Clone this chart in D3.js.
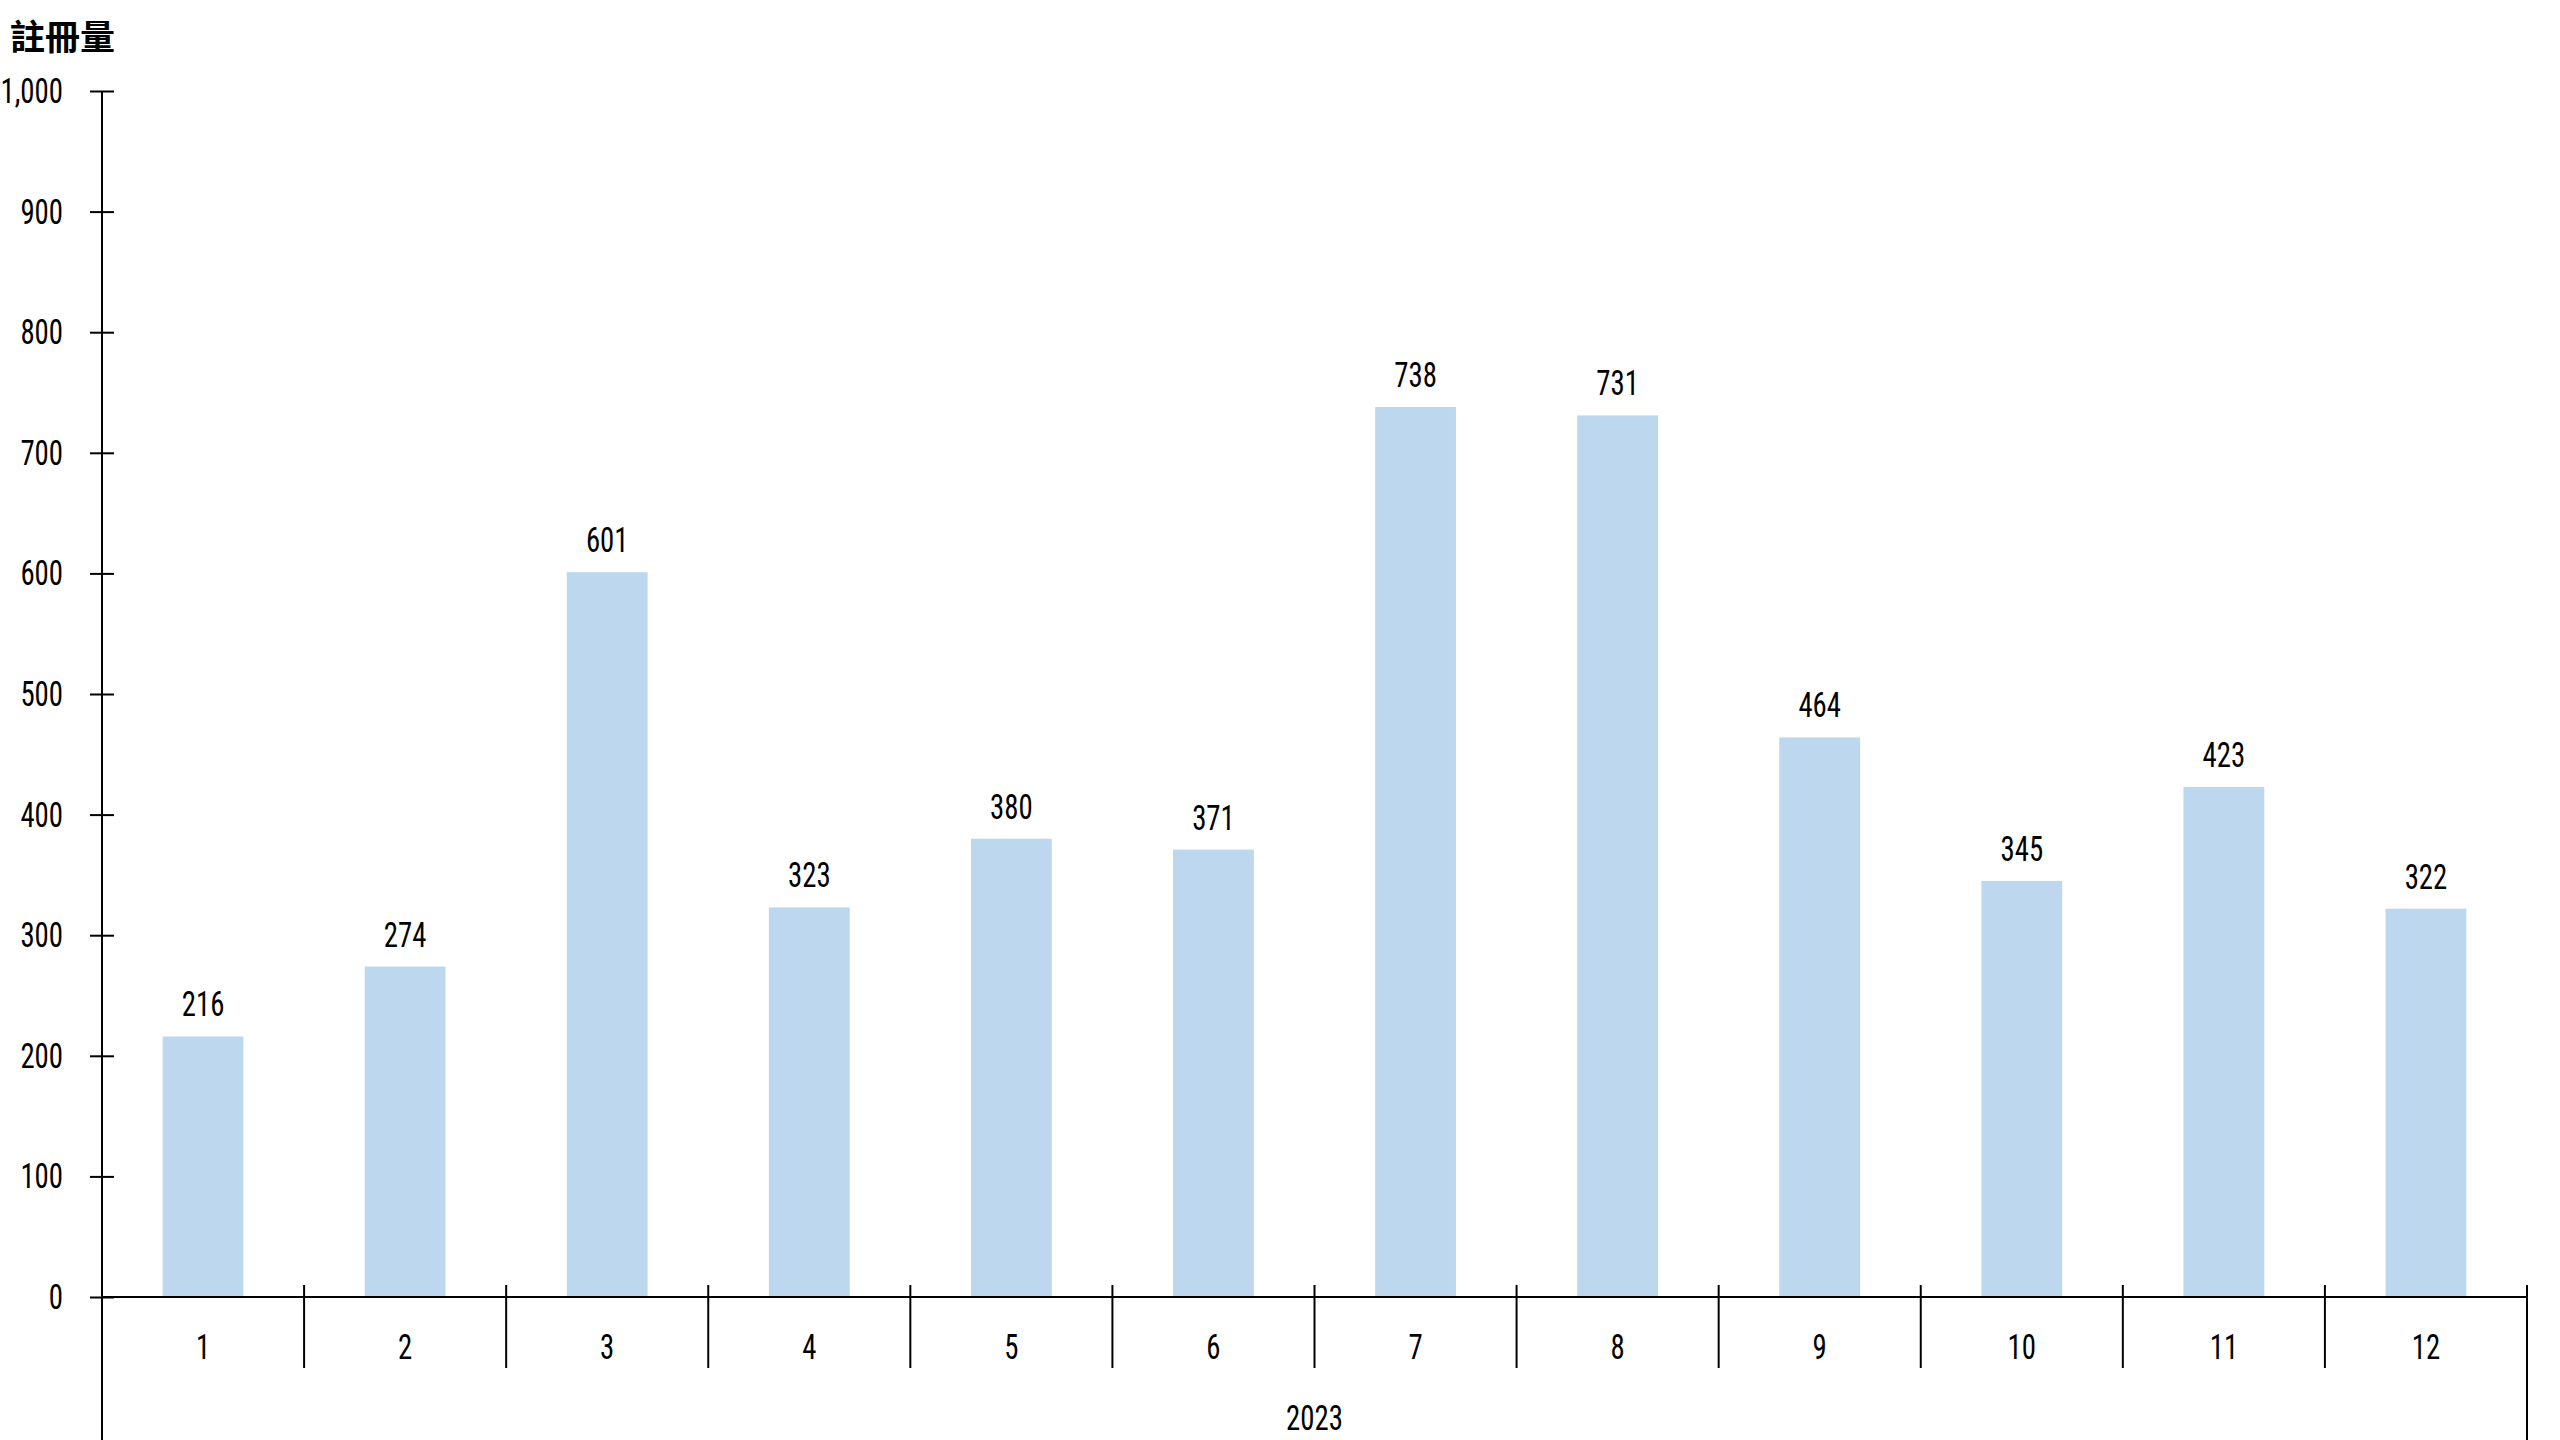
<!DOCTYPE html>
<html>
<head>
<meta charset="utf-8">
<script src="https://cdn.jsdelivr.net/npm/d3@7"></script>
<style>
  html, body { margin: 0; padding: 0; background: #fff; }
  svg text { font-family: "Roboto Condensed", "DejaVu Sans Condensed", "Liberation Sans Narrow", "DejaVu Sans", sans-serif; font-stretch: condensed; fill: #000; }
  .title { font-family: "Noto Sans CJK TC", "Noto Sans CJK SC", sans-serif; font-weight: bold; font-stretch: normal; }
</style>
</head>
<body>
<svg id="chart" width="2560" height="1440"></svg>
<script>
// Monthly registrations, 2023
var months = ['1', '2', '3', '4', '5', '6', '7', '8', '9', '10', '11', '12'];
var values = [216, 274, 601, 323, 380, 371, 738, 731, 464, 345, 423, 322];
var yTicks = [0, 100, 200, 300, 400, 500, 600, 700, 800, 900, 1000];
var yearLabel = '2023';
var yTitle = '註冊量';

var svg = d3.select('#chart');
var plotLeft = 102, plotRight = 2527, plotTop = 91, base = 1297, plotBottom = 1440;
var fontSize = 36;
var squeeze = 0.8; // the numbers in the original use a narrow typeface

// Narrow the text horizontally while keeping its anchor where it was.
function narrow(sel) {
  sel.each(function() {
    var t = d3.select(this);
    var xv = +t.attr('x') || 0;
    t.attr('x', xv / squeeze).attr('transform', 'scale(' + squeeze + ',1)');
  });
}

var x = d3.scaleBand()
  .domain(months)
  .range([plotLeft, plotRight])
  .paddingInner(0)
  .paddingOuter(0);

var y = d3.scaleLinear()
  .domain([0, 1000])
  .range([base, plotTop]);

var barW = x.bandwidth() * 0.4;

// Bars
svg.append('g')
  .selectAll('rect')
  .data(values)
  .enter().append('rect')
    .attr('x', function(d, i) { return x(months[i]) + (x.bandwidth() - barW) / 2; })
    .attr('y', function(d) { return y(d); })
    .attr('width', barW)
    .attr('height', function(d) { return base - y(d); })
    .attr('fill', '#bdd7ee');

// Value labels
svg.append('g')
  .selectAll('text')
  .data(values)
  .enter().append('text')
    .attr('x', function(d, i) { return x(months[i]) + x.bandwidth() / 2; })
    .attr('y', function(d) { return y(d) - 20; })
    .attr('text-anchor', 'middle')
    .attr('font-size', fontSize)
    .text(function(d) { return d; })
    .call(narrow);

// Y axis, ticks crossing the line
var gy = svg.append('g')
  .attr('transform', 'translate(' + plotLeft + ',0)')
  .call(d3.axisLeft(y)
    .tickValues(yTicks)
    .tickSize(12)
    .tickPadding(27)
    .tickFormat(d3.format(',')));
gy.select('.domain').remove();
gy.selectAll('.tick line')
  .attr('x1', 12)
  .attr('stroke', '#000')
  .attr('stroke-width', 2);
gy.selectAll('.tick text')
  .attr('font-family', null)
  .attr('font-size', fontSize)
  .attr('fill', '#000')
  .call(narrow);

// Y axis line, running down past the category area
svg.append('line')
  .attr('x1', plotLeft).attr('x2', plotLeft)
  .attr('y1', plotTop).attr('y2', plotBottom)
  .attr('stroke', '#000').attr('stroke-width', 2);

// X axis baseline
svg.append('line')
  .attr('x1', plotLeft).attr('x2', plotRight)
  .attr('y1', base).attr('y2', base)
  .attr('stroke', '#000').attr('stroke-width', 2);

// Month labels
var gx = svg.append('g')
  .attr('transform', 'translate(0,' + base + ')')
  .call(d3.axisBottom(x).tickSize(0));
gx.select('.domain').remove();
gx.selectAll('.tick text')
  .attr('font-family', null)
  .attr('font-size', fontSize)
  .attr('fill', '#000')
  .attr('y', 62)
  .attr('dy', 0)
  .call(narrow);

// Separators between months
svg.append('g')
  .selectAll('line')
  .data(months.slice(1))
  .enter().append('line')
    .attr('x1', function(d) { return x(d); })
    .attr('x2', function(d) { return x(d); })
    .attr('y1', base - 12)
    .attr('y2', base + 71)
    .attr('stroke', '#000')
    .attr('stroke-width', 2);

// Right edge of the year group
svg.append('line')
  .attr('x1', plotRight).attr('x2', plotRight)
  .attr('y1', base - 12).attr('y2', plotBottom)
  .attr('stroke', '#000').attr('stroke-width', 2);

// Year label
svg.append('text')
  .attr('x', (plotLeft + plotRight) / 2)
  .attr('y', 1430)
  .attr('text-anchor', 'middle')
  .attr('font-size', fontSize)
  .text(yearLabel)
  .call(narrow);

// Axis title
svg.append('text')
  .attr('class', 'title')
  .attr('x', 10)
  .attr('y', 50)
  .attr('font-size', 35)
  .text(yTitle);
</script>
</body>
</html>
